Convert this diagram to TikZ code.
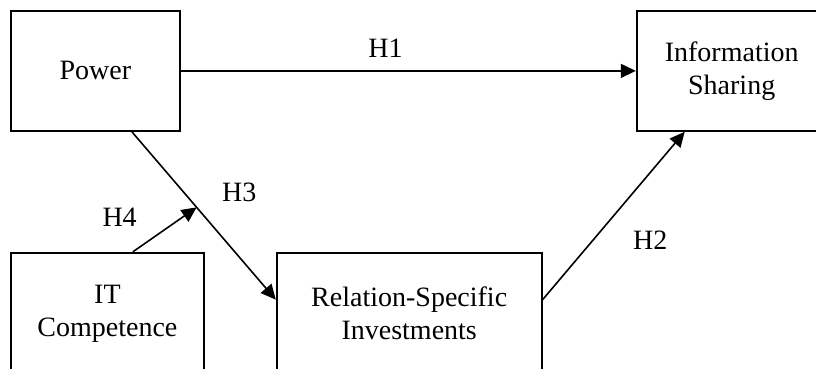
\documentclass[tikz,border=0pt]{standalone}
\usepackage{fontspec}
\setmainfont{Liberation Serif}
\usetikzlibrary{arrows.meta,positioning}

\begin{document}
\begin{tikzpicture}[
    node distance=1cm,
    box/.style={rectangle, draw, line width=0.9pt, minimum height=60pt, align=center, inner sep=0pt},
    arrow/.style={-{Triangle[length=7.5pt,width=7pt]}, line width=0.8pt},
    hyp/.style={inner sep=0pt},
    font=\fontsize{14}{16.5}\selectfont,
]
\useasboundingbox (0,0) rectangle (408pt,-184.5pt);

% Constructs
\node[box, minimum width=84.5pt, anchor=north west] (power) at (5pt,-5pt) {Power};
\node[box, minimum width=95pt, right=227.5pt of power] (infoshare) {Information\\Sharing};
\node[box, minimum width=96.5pt, minimum height=61pt, below=60pt of power.south west, anchor=north west] (itcomp) {IT\\Competence};
\node[box, minimum width=132.5pt, minimum height=61pt, right=35.5pt of itcomp] (relspec) {Relation-Specific\\Investments};

% Hypotheses
\draw[arrow] (power) -- (infoshare) node[hyp, pos=0.45, yshift=11.5pt] {H1};
\draw[arrow] ([yshift=7pt]relspec.east) -- ([xshift=-23.5pt]infoshare.south) node[hyp, pos=0.353, xshift=28.75pt] {H2};
\draw[arrow] ([xshift=18.25pt]power.south) -- coordinate[pos=0.45] (moderate) ([yshift=7pt]relspec.west) node[hyp, pos=0.36, xshift=27.8pt] {H3};
\draw[arrow] ([xshift=12.75pt]itcomp.north) -- (moderate) node[hyp, pos=0.78, xshift=-31.5pt] {H4};

\end{tikzpicture}
\end{document}
